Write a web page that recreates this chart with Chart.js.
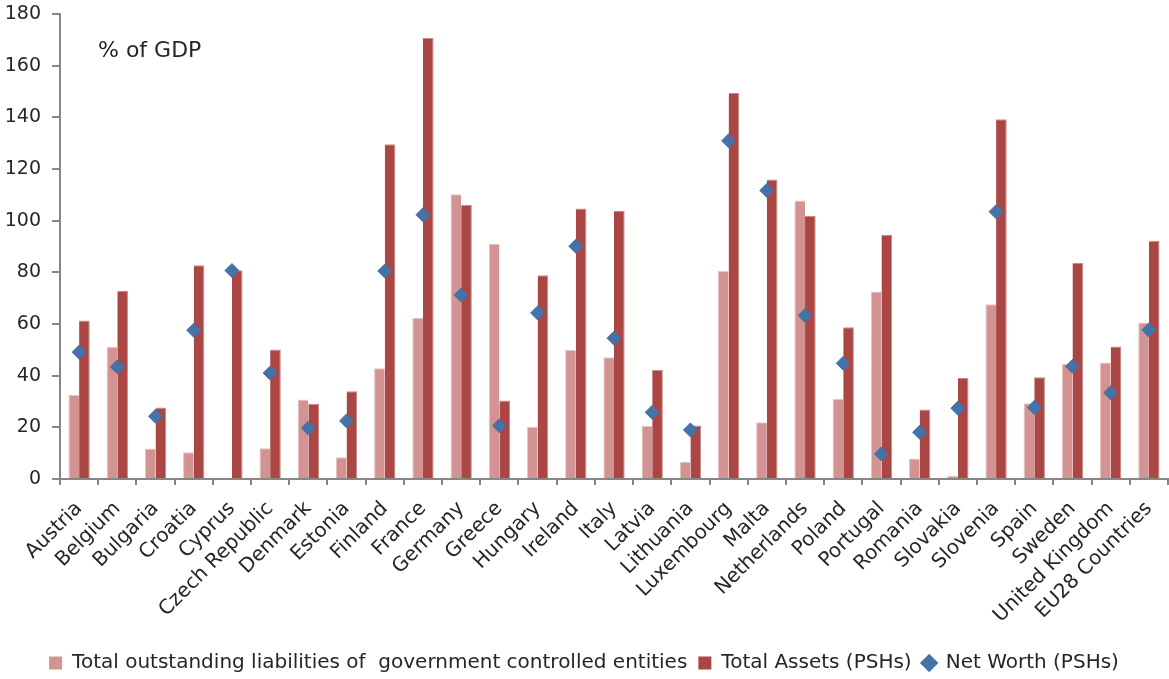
<!DOCTYPE html>
<html>
<head>
<meta charset="utf-8">
<script src="https://cdn.jsdelivr.net/npm/chart.js@4"></script>
<style>
  html, body { margin: 0; padding: 0; background: #ffffff; }
  #wrap { width: 1169px; height: 679px; position: relative; }
</style>
</head>
<body>
<div id="wrap"><canvas id="chart" width="1169" height="679"></canvas></div>
<script>
const countries = ["Austria", "Belgium", "Bulgaria", "Croatia", "Cyprus", "Czech Republic", "Denmark", "Estonia", "Finland", "France", "Germany", "Greece", "Hungary", "Ireland", "Italy", "Latvia", "Lithuania", "Luxembourg", "Malta", "Netherlands", "Poland", "Portugal", "Romania", "Slovakia", "Slovenia", "Spain", "Sweden", "United Kingdom", "EU28 Countries"];

// % of GDP
const liabilitiesGCE = [32.6, 51.1, 11.8, 10.4, 0, 11.9, 30.8, 8.4, 42.9, 62.4, 110.2, 91.1, 20.2, 50.0, 47.1, 20.6, 6.6, 80.5, 22.0, 107.8, 31.1, 72.6, 7.9, 1.3, 67.6, 29.3, 44.5, 45.1, 60.6];
const totalAssetsPSH = [61.4, 72.8, 27.7, 82.7, 80.8, 50.1, 29.1, 34.0, 129.6, 170.8, 106.2, 30.4, 78.9, 104.7, 103.7, 42.3, 20.7, 149.4, 115.9, 101.9, 58.7, 94.5, 26.9, 39.1, 139.3, 39.4, 83.6, 51.3, 92.2];
const netWorthPSH = [49.1, 43.4, 24.3, 57.6, 80.7, 41.0, 19.7, 22.5, 80.5, 102.3, 71.2, 20.6, 64.3, 90.1, 54.5, 25.8, 19.0, 130.9, 111.7, 63.3, 44.8, 9.7, 18.1, 27.4, 103.5, 27.7, 43.6, 33.4, 57.7];

const yTicks = [0, 20, 40, 60, 80, 100, 120, 140, 160, 180];

const FONT = "'DejaVu Sans', sans-serif";
const TEXT = '#262626';
const AXIS = '#868686';

const unitLabel = {
  id: 'unitLabel',
  afterDraw(chart) {
    const ctx = chart.ctx;
    const a = chart.chartArea;
    ctx.save();
    ctx.font = '22px ' + FONT;
    ctx.fillStyle = TEXT;
    ctx.textBaseline = 'alphabetic';
    ctx.fillText('% of GDP', a.left + 38, a.top + 43);
    ctx.restore();
  }
};

new Chart(document.getElementById('chart'), {
  type: 'bar',
  data: {
    labels: countries,
    datasets: [
      {
        type: 'line',
        label: 'Net Worth (PSHs)',
        data: netWorthPSH,
        showLine: false,
        pointStyle: 'rectRot',
        pointRadius: 7,
        pointHoverRadius: 7,
        backgroundColor: '#4572A7',
        borderColor: '#4572A7',
        borderWidth: 1,
        order: 0
      },
      {
        label: 'Total outstanding liabilities of  government controlled entities',
        data: liabilitiesGCE,
        backgroundColor: '#D39393',
        borderColor: '#E9C3C3',
        borderWidth: { top: 1, left: 1, right: 0, bottom: 0 },
        order: 1
      },
      {
        label: 'Total Assets (PSHs)',
        data: totalAssetsPSH,
        backgroundColor: '#AA4644',
        borderColor: '#C98886',
        borderWidth: { top: 1, left: 0, right: 1, bottom: 0 },
        order: 1
      }
    ]
  },
  options: {
    responsive: false,
    animation: false,
    events: [],
    layout: { autoPadding: false, padding: { top: 14, right: 1, bottom: -4, left: 0 } },
    datasets: {
      bar: { categoryPercentage: 0.558, barPercentage: 1.0 }
    },
    scales: {
      x: {
        offset: true,
        grid: {
          offset: true,
          display: true,
          drawOnChartArea: false,
          drawTicks: true,
          tickLength: 6,
          color: AXIS,
          lineWidth: 2
        },
        border: { display: true, color: AXIS, width: 2 },
        ticks: {
          autoSkip: false,
          maxRotation: 45,
          minRotation: 45,
          color: TEXT,
          font: { family: FONT, size: 20 },
          padding: 12
        },
        afterFit(scale) {
          scale.height = 163;
          scale.paddingLeft = 0;
          scale.paddingRight = 0;
        }
      },
      y: {
        min: 0,
        max: 180,
        afterBuildTicks(scale) { scale.ticks = yTicks.map(v => ({ value: v })); },
        grid: {
          display: true,
          drawOnChartArea: false,
          drawTicks: true,
          tickLength: 8,
          color: AXIS,
          lineWidth: 2
        },
        border: { display: true, color: AXIS, width: 2 },
        ticks: {
          color: TEXT,
          font: { family: FONT, size: 19 },
          padding: 11
        },
        afterFit(scale) {
          scale.width = 60;
          scale.paddingTop = 0;
          scale.paddingBottom = 0;
        }
      }
    },
    plugins: {
      tooltip: { enabled: false },
      legend: {
        position: 'bottom',
        labels: {
          color: TEXT,
          font: { family: FONT, size: 20 },
          usePointStyle: true,
          boxWidth: 13,
          boxHeight: 13,
          padding: 11,
          sort: (a, b) => b.datasetIndex === 0 ? -1 : (a.datasetIndex === 0 ? 1 : a.datasetIndex - b.datasetIndex),
          generateLabels(chart) {
            const items = Chart.defaults.plugins.legend.labels.generateLabels(chart);
            items.forEach(it => {
              const ds = chart.data.datasets[it.datasetIndex];
              it.pointStyle = ds.type === 'line' ? 'rectRot' : 'rect';
              it.fillStyle = ds.backgroundColor;
              it.strokeStyle = ds.backgroundColor;
              it.lineWidth = 0;
            });
            return items;
          }
        }
      }
    }
  },
  plugins: [unitLabel]
});
</script>
</body>
</html>
